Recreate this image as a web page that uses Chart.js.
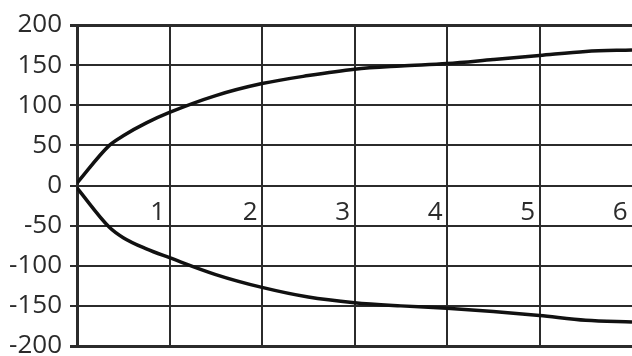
<!DOCTYPE html>
<html>
<head>
<meta charset="utf-8">
<script src="https://cdn.jsdelivr.net/npm/chart.js@4"></script>
<style>
  html, body { margin: 0; padding: 0; background: #fff; }
  .chart-container { width: 632px; height: 356px; position: relative; }
</style>
</head>
<body>
<div class="chart-container"><canvas id="curveChart"></canvas></div>
<script>
/* two symmetric curves */
const upperX = [0, 0.35, 0.5, 0.75, 1, 1.5, 2, 2.5, 3, 3.5, 4, 4.5, 5, 5.5, 6];
const upperY = [3, 50, 62, 78, 91, 112, 127, 137, 145, 149, 152, 157, 162, 167, 169];
const lowerX = [0, 0.35, 0.5, 0.75, 1, 1.5, 2, 2.5, 3, 3.5, 4, 4.5, 5, 5.5, 6];
const lowerY = [-3, -52, -65, -79, -90, -111, -127, -139, -146, -150, -153, -157, -162, -168, -170];

const xTicks = [0, 1, 2, 3, 4, 5, 6];
const yTicks = [-200, -150, -100, -50, 0, 50, 100, 150, 200];

const INK = '#2b2b2b';
const FONT = { family: '"Open Sans", sans-serif', size: 26 };

function pts(xs, ys) {
  return xs.map((x, i) => ({ x: x, y: ys[i] }));
}

const lineStyle = {
  borderColor: '#111',
  borderWidth: 3.5,
  pointRadius: 0,
  tension: 0.4,
  cubicInterpolationMode: 'monotone',
  fill: false,
};

new Chart(document.getElementById('curveChart'), {
  type: 'line',
  data: {
    datasets: [
      Object.assign({ label: 'upper', data: pts(upperX, upperY) }, lineStyle),
      Object.assign({ label: 'lower', data: pts(lowerX, lowerY) }, lineStyle),
    ]
  },
  options: {
    responsive: true,
    maintainAspectRatio: false,
    animation: false,
    layout: { padding: { top: 25, bottom: 10, left: 0, right: 0 } },
    plugins: { legend: { display: false }, tooltip: { enabled: false } },
    scales: {
      x: {
        type: 'linear',
        position: { y: 0 },
        min: xTicks[0],
        max: xTicks[xTicks.length - 1],
        afterBuildTicks: (s) => { s.ticks = xTicks.map(v => ({ value: v })); },
        afterFit: (s) => {
          s.height = 0;
          s.paddingBottom = 0; s.paddingTop = 0;
          s.paddingLeft = 0; s.paddingRight = 0;
        },
        ticks: {
          align: 'end',
          padding: 11,
          color: INK,
          font: FONT,
          callback: (v) => (v === 0 ? '' : v + '\u2009'),
        },
        grid: {
          drawTicks: false,
          lineWidth: 2,
          color: (c) => (c.tick && (c.tick.value === 0 || c.tick.value === 6) ? 'rgba(0,0,0,0)' : INK),
        },
        border: { display: false },
      },
      y: {
        min: yTicks[0],
        max: yTicks[yTicks.length - 1],
        afterBuildTicks: (s) => { s.ticks = yTicks.map(v => ({ value: v })); },
        afterFit: (s) => { s.width = 77; s.paddingTop = 0; s.paddingBottom = 0; },
        ticks: { padding: 8, color: INK, font: FONT },
        grid: {
          tickLength: 7,
          color: INK,
          lineWidth: (c) => (c.tick && Math.abs(c.tick.value) === 200 ? 3 : 2),
        },
        border: { color: INK, width: 3 },
      }
    }
  }
});
</script>
</body>
</html>
